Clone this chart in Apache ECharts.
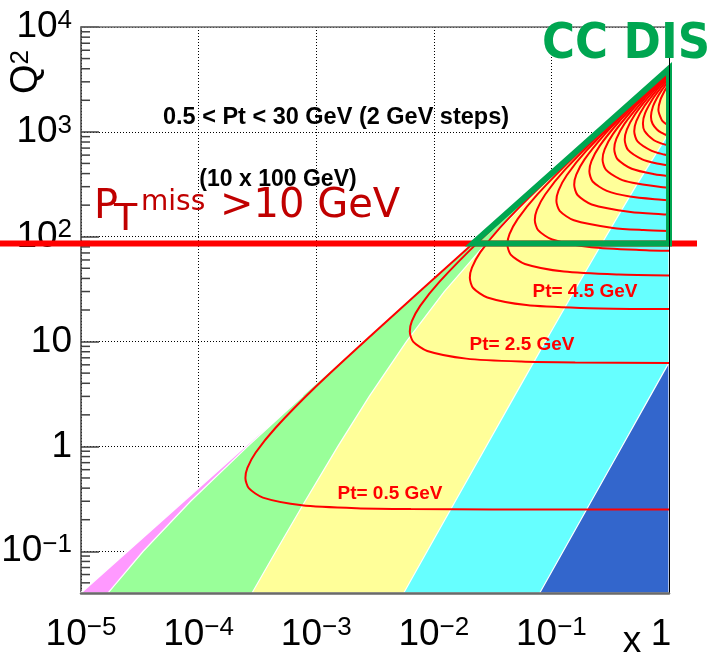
<!DOCTYPE html>
<html>
<head>
<meta charset="utf-8">
<script src="https://cdn.jsdelivr.net/npm/echarts@6/dist/echarts.min.js"></script>
<style>
  html, body { margin: 0; padding: 0; background: #ffffff; }
  #main { width: 714px; height: 659px; }
</style>
</head>
<body>
<div id="main"></div>
<script>
// Kinematic plane of 10 x 100 GeV ep collisions: Q^2 versus Bjorken x (both log scale)
const X_MIN = 1e-5, X_MAX = 1;
const Q2_MIN = 0.04, Q2_MAX = 1e4;

// Minor tick marks on the Q^2 axis
const q2MinorTicks = [
  0.05, 0.06, 0.07, 0.08, 0.09,
  0.2, 0.3, 0.4, 0.5, 0.6, 0.7, 0.8, 0.9,
  2, 3, 4, 5, 6, 7, 8, 9,
  20, 30, 40, 50, 60, 70, 80, 90,
  200, 300, 400, 500, 600, 700, 800, 900,
  2000, 3000, 4000, 5000, 6000, 7000, 8000, 9000
];

// Struck-quark rapidity bands, each outline closed along the y = 1 limit
const bandBlue = [[1e-5, 0.04], [1, 0.04], [1, 4000]];
const bandCyan = [[1e-5, 0.04], [0.0796, 0.04], [0.1259, 0.1], [0.2181, 0.3], [0.3982, 1],
  [0.6899, 3], [1, 6.3], [1, 4000]];
const bandYellow = [[1e-5, 0.04], [5.552e-3, 0.04], [8.782e-3, 0.1], [0.01523, 0.3], [0.02786, 1],
  [0.04842, 3], [0.08897, 10], [0.1557, 30], [0.2901, 100], [0.5193, 300], [1, 981], [1, 4000]];
const bandGreen = [[1e-5, 0.04], [2.846e-4, 0.04], [4.546e-4, 0.1], [8.039e-4, 0.3], [1.528e-3, 1],
  [2.8245e-3, 3], [5.843e-3, 10], [0.012274, 30], [0.03125, 100], [0.08214, 300], [0.2576, 1000],
  [0.7577, 3000], [1, 3969], [1, 4000]];
const bandPink = [[1e-5, 0.04], [1.7e-5, 0.04], [3.38e-5, 0.1], [8.545e-5, 0.3], [2.614e-4, 1],
  [7.617e-4, 3], [7.5e-4, 3]];

// Lines of constant quark transverse momentum, Pt in GeV
const ptValues = [0.5, 2.5, 4.5, 6.5, 8.5, 10.5, 12.5, 14.5, 16.5, 18.5, 20.5, 22.5, 24.5, 26.5, 28.5];
const ptCurve0_5 = [[1, 0.25], [0.0314, 0.2505], [6.38e-3, 0.2525], [2.21e-3, 0.2575], [7.56e-4, 0.275],
  [3.52e-4, 0.325], [2.67e-4, 0.4], [2.5e-4, 0.5], [2.6e-4, 0.625], [3.06e-4, 0.875], [4.5e-4, 1.5],
  [1.0e-3, 3.75], [3.19e-3, 12.5], [0.0188, 75], [0.1876, 750], [1, 4000]];
const ptCurve2_5 = [[1, 6.26], [0.1594, 6.3125], [0.05525, 6.4375], [0.01891, 6.875], [8.8e-3, 8.125],
  [6.67e-3, 10], [6.25e-3, 12.5], [6.51e-3, 15.625], [7.66e-3, 21.875], [0.01125, 37.5], [0.0251, 93.75],
  [0.0797, 312.5], [0.4703, 1875], [1, 3994]];
const ptCurve4_5 = [[1, 20.4], [0.5164, 20.45], [0.179, 20.86], [0.06126, 22.275], [0.02852, 26.325],
  [0.0216, 32.4], [0.02025, 40.5], [0.0211, 50.6], [0.0248, 70.9], [0.03645, 121.5], [0.08136, 303.75],
  [0.2583, 1012.5], [1, 3980]];
const ptCurve6_5 = [[1, 42.7], [0.3735, 43.52], [0.1278, 46.475], [0.0595, 54.925], [0.04507, 67.6],
  [0.04225, 84.5], [0.04401, 105.6], [0.05176, 147.9], [0.07605, 253.5], [0.1697, 633.75],
  [0.5389, 2112.5], [1, 3957]];
const ptCurve8_5 = [[1, 73.6], [0.6387, 74.42], [0.2186, 79.475], [0.1017, 93.9], [0.07707, 115.6],
  [0.07225, 144.5], [0.07527, 180.6], [0.0885, 252.9], [0.13, 433.5], [0.2903, 1083.75],
  [0.741, 2890], [1, 3926]];
const ptCurve10_5 = [[1, 113.5], [0.6078, 115.76], [0.3335, 121.275], [0.1553, 143.3], [0.1176, 176.4],
  [0.11025, 220.5], [0.1149, 275.6], [0.1351, 385.9], [0.1985, 661.5], [0.4429, 1653.75],
  [0.7177, 2756], [1, 3886]];
const ptCurve12_5 = [[1, 162.9], [0.861, 164.06], [0.4727, 171.9], [0.22, 203.1], [0.1667, 250],
  [0.15625, 312.5], [0.1628, 390.6], [0.1914, 546.9], [0.28125, 937.5], [0.434, 1562.5],
  [0.6278, 2343.75], [1, 3837]];
const ptCurve14_5 = [[1, 222.6], [0.86, 225], [0.4634, 241.8], [0.2961, 273.3], [0.2243, 336.4],
  [0.21025, 420.5], [0.219, 525.6], [0.2576, 735.9], [0.3785, 1261.5], [0.584, 2102.5],
  [0.7925, 2943.5], [1, 3777]];
const ptCurve16_5 = [[1, 293.8], [0.8236, 299.5], [0.49, 326.7], [0.3834, 353.9], [0.2904, 435.6],
  [0.27225, 544.5], [0.2836, 680.6], [0.3335, 952.9], [0.49, 1633.5], [0.689, 2450],
  [0.891, 3267], [1, 3706]];
const ptCurve18_5 = [[1, 378], [0.754, 393.6], [0.482, 444.9], [0.3651, 547.6], [0.34225, 684.5],
  [0.3565, 855.6], [0.4193, 1197.9], [0.616, 2053.5], [0.782, 2738], [0.9506, 3422.5], [1, 3622]];
const ptCurve20_5 = [[1, 477.2], [0.7565, 504.3], [0.5918, 546.3], [0.4483, 672.4], [0.42025, 840.5],
  [0.4378, 1050.6], [0.5148, 1470.9], [0.6566, 2101], [0.858, 2941.75], [1, 3522.8]];
const ptCurve22_5 = [[1, 594.7], [0.911, 607.5], [0.713, 658.1], [0.54, 810], [0.50625, 1012.5],
  [0.5273, 1265.6], [0.6202, 1771.9], [0.791, 2531], [0.911, 3037.5], [1, 3405.3]];
const ptCurve24_5 = [[1, 735.5], [0.8453, 780.3], [0.7353, 840.35], [0.6196, 1020.4], [0.60025, 1200.5],
  [0.6253, 1500.6], [0.7353, 2100.9], [0.868, 2701], [1, 3264.5]];
const ptCurve26_5 = [[1, 908.7], [0.86, 983.2], [0.79, 1053.4], [0.7249, 1193.8], [0.70225, 1404.5],
  [0.7315, 1755.6], [0.79, 2106.75], [0.86, 2457.9], [0.936, 2809], [1, 3091.3]];
const ptCurve28_5 = [[1, 1133.4], [0.9138, 1218.4], [0.8664, 1299.6], [0.81225, 1624.5],
  [0.8461, 2030.6], [0.9138, 2436.75], [0.9615, 2680], [1, 2866.6]];
const ptCurves = [ptCurve0_5, ptCurve2_5, ptCurve4_5, ptCurve6_5, ptCurve8_5, ptCurve10_5, ptCurve12_5,
  ptCurve14_5, ptCurve16_5, ptCurve18_5, ptCurve20_5, ptCurve22_5, ptCurve24_5, ptCurve26_5, ptCurve28_5];

// Missing-Pt threshold (Q^2 level of the cut line) and the CC DIS selection triangle
const ptMissCutQ2 = [86];
const ccDisTriangle = [[0.0215, 86], [1, 86], [1, 4000], [0.0215, 86], [1, 86]];

const LABEL_FONT = '"Liberation Sans", Arial, Helvetica, sans-serif';
const COMIC_FONT = '"DejaVu Sans", sans-serif';

function isDecade(v) {
  const l = Math.log10(v);
  return Math.abs(l - Math.round(l)) < 1e-6;
}
function powerLabel(v) {
  const e = Math.round(Math.log10(v));
  if (e === 0) return '{b|1}';
  if (e === 1) return '{b|10}';
  return '{b|10}{s|' + (e < 0 ? '\u2212' : '') + Math.abs(e) + '}';
}
const labelRich = {
  b: { fontSize: 37, fontFamily: LABEL_FONT, color: '#000', lineHeight: 39 },
  s: { fontSize: 26, fontFamily: LABEL_FONT, color: '#000', lineHeight: 26, verticalAlign: 'top' }
};
const xLabelRich = {
  b: labelRich.b,
  s: labelRich.s,
  one: { fontSize: 37, fontFamily: LABEL_FONT, color: '#000', lineHeight: 39, padding: [0, 16, 0, 0] }
};

function bandSeries(points, color) {
  return {
    type: 'custom', coordinateSystem: 'cartesian2d', xAxisIndex: 0, yAxisIndex: 0,
    data: points, z: 1, silent: true,
    renderItem: function (params, api) {
      if (params.dataIndex !== 0) return null;
      return {
        type: 'polygon',
        shape: { points: points.map(function (p) { return api.coord(p); }) },
        style: { fill: color, stroke: '#ffffff', lineWidth: 1.2 }
      };
    }
  };
}

const series = [
  bandSeries(bandBlue, '#3366cc'),
  bandSeries(bandCyan, '#66ffff'),
  bandSeries(bandYellow, '#ffff99'),
  bandSeries(bandGreen, '#99ff99'),
  bandSeries(bandPink, '#ff99ff'),
  {
    // minor ticks along the left Q^2 axis
    type: 'custom', coordinateSystem: 'cartesian2d', xAxisIndex: 0, yAxisIndex: 0, z: 1, silent: true,
    data: q2MinorTicks.map(function (v) { return [X_MIN, v]; }),
    renderItem: function (params, api) {
      const p = api.coord([api.value(0), api.value(1)]);
      return { type: 'line', shape: { x1: p[0], y1: p[1], x2: p[0] + 9, y2: p[1] },
        style: { stroke: '#404040', lineWidth: 1.5 } };
    }
  }
];

ptCurves.forEach(function (curve, i) {
  series.push({
    name: 'Pt= ' + ptValues[i] + ' GeV', type: 'line', data: curve, xAxisIndex: 0, yAxisIndex: 0,
    showSymbol: false, smooth: 0.25, z: 3, silent: true,
    lineStyle: { color: '#ff0000', width: 2 }
  });
});

// the missing-Pt cut runs across the whole canvas, past both frame edges
series.push({
  type: 'custom', coordinateSystem: 'cartesian2d', xAxisIndex: 0, yAxisIndex: 0, z: 4, silent: true,
  data: ptMissCutQ2.map(function (q) { return [X_MAX, q]; }),
  renderItem: function (params, api) {
    const p = api.coord([api.value(0), api.value(1)]);
    return { type: 'line', shape: { x1: 0, y1: p[1], x2: p[0] + 28, y2: p[1] },
      style: { stroke: '#ff0000', lineWidth: 6 } };
  }
});
series.push({
  type: 'line', data: ccDisTriangle, clip: false, showSymbol: false, z: 5, silent: true,
  lineStyle: { color: '#00a651', width: 6, join: 'miter', cap: 'butt' }
});

function txt(x, y, text, font, fill, align, extra) {
  const el = {
    type: 'text', x: x, y: y, z: 100,
    style: {
      text: text, font: font, fill: fill,
      textAlign: align || 'center', align: align || 'center',
      textVerticalAlign: 'middle', verticalAlign: 'middle'
    }
  };
  if (extra) Object.assign(el.style, extra);
  return el;
}

const option = {
  animation: false,
  backgroundColor: '#ffffff',
  grid: { left: 81, right: 45, top: 27, bottom: 66, containLabel: false, outerBoundsMode: 'none' },
  xAxis: [
    {
      type: 'log', logBase: 10, min: X_MIN, max: X_MAX, position: 'bottom', z: 0,
      axisLine: { show: false }, axisTick: { show: false },
      axisLabel: {
        margin: 22, showMinLabel: true, showMaxLabel: true, hideOverlap: false,
        formatter: function (v) {
          if (!isDecade(v)) return '';
          return Math.round(Math.log10(v)) === 0 ? '{one|1}' : powerLabel(v);
        },
        rich: xLabelRich
      },
      splitLine: { show: true, lineStyle: { color: '#000', width: 1, type: [1, 2] } }
    },
    {
      type: 'log', logBase: 10, min: X_MIN, max: X_MAX, position: 'top', offset: 0, z: 10,
      axisLine: { show: true, lineStyle: { color: '#6a6a6a', width: 1.5 } },
      axisTick: { show: false }, axisLabel: { show: false }, splitLine: { show: false }
    },
    {
      type: 'log', logBase: 10, min: X_MIN, max: X_MAX, position: 'bottom', offset: 0, z: 10,
      axisLine: { show: true, lineStyle: { color: '#6a6a6a', width: 2.5 } },
      axisTick: { show: false }, axisLabel: { show: false }, splitLine: { show: false }
    }
  ],
  yAxis: [
    {
      type: 'log', logBase: 10, min: Q2_MIN, max: Q2_MAX, position: 'left', z: 0,
      axisLine: { show: true, lineStyle: { color: '#404040', width: 1.5 } },
      axisTick: { show: true, inside: true, length: 18, lineStyle: { color: '#404040', width: 1.5 } },
      axisLabel: {
        margin: 9, showMinLabel: true, showMaxLabel: true, hideOverlap: false,
        formatter: function (v) { return isDecade(v) ? powerLabel(v) : ''; }, rich: labelRich
      },
      splitLine: { show: true, lineStyle: { color: '#000', width: 1, type: [1, 2] } }
    },
    {
      type: 'log', logBase: 10, min: Q2_MIN, max: Q2_MAX, position: 'right', offset: 0, z: 10,
      axisLine: { show: true, lineStyle: { color: '#000', width: 1 } },
      axisTick: { show: false }, axisLabel: { show: false }, splitLine: { show: false }
    }
  ],
  series: series,
  graphic: {
    elements: [
      txt(336, 118, '0.5 < Pt < 30 GeV (2 GeV steps)', 'bold 23.5px ' + LABEL_FONT, '#000'),
      txt(278, 180, '(10 x 100 GeV)', 'bold 23px ' + LABEL_FONT, '#000'),
      txt(390, 494, 'Pt= 0.5 GeV', 'bold 19px ' + LABEL_FONT, '#ff0000'),
      txt(522, 345, 'Pt= 2.5 GeV', 'bold 19px ' + LABEL_FONT, '#ff0000'),
      txt(585, 292, 'Pt= 4.5 GeV', 'bold 19px ' + LABEL_FONT, '#ff0000'),
      txt(94, 208, 'P', '40px ' + COMIC_FONT, '#c00000', 'left'),
      txt(114, 220, 'T', '38px ' + COMIC_FONT, '#c00000', 'left'),
      txt(141, 203, 'miss', '28px ' + COMIC_FONT, '#c00000', 'left'),
      txt(220, 207, '>10 GeV', '40px ' + COMIC_FONT, '#c00000', 'left'),
      txt(626, 45, 'CC DIS', 'bold 50px "DejaVu Sans Condensed", "DejaVu Sans", sans-serif', '#00a651'),
      txt(632, 642, 'x', '37px ' + LABEL_FONT, '#000'),
      {
        type: 'text', x: 27, y: 72, rotation: Math.PI / 2, z: 100,
        style: {
          text: 'Q{s|2}', font: '38px ' + LABEL_FONT, fill: '#000', lineHeight: 39,
          textAlign: 'center', align: 'center', textVerticalAlign: 'middle', verticalAlign: 'middle',
          rich: labelRich
        }
      }
    ]
  }
};

const chart = echarts.init(document.getElementById('main'), null, { renderer: 'canvas' });
chart.setOption(option);
</script>
</body>
</html>
